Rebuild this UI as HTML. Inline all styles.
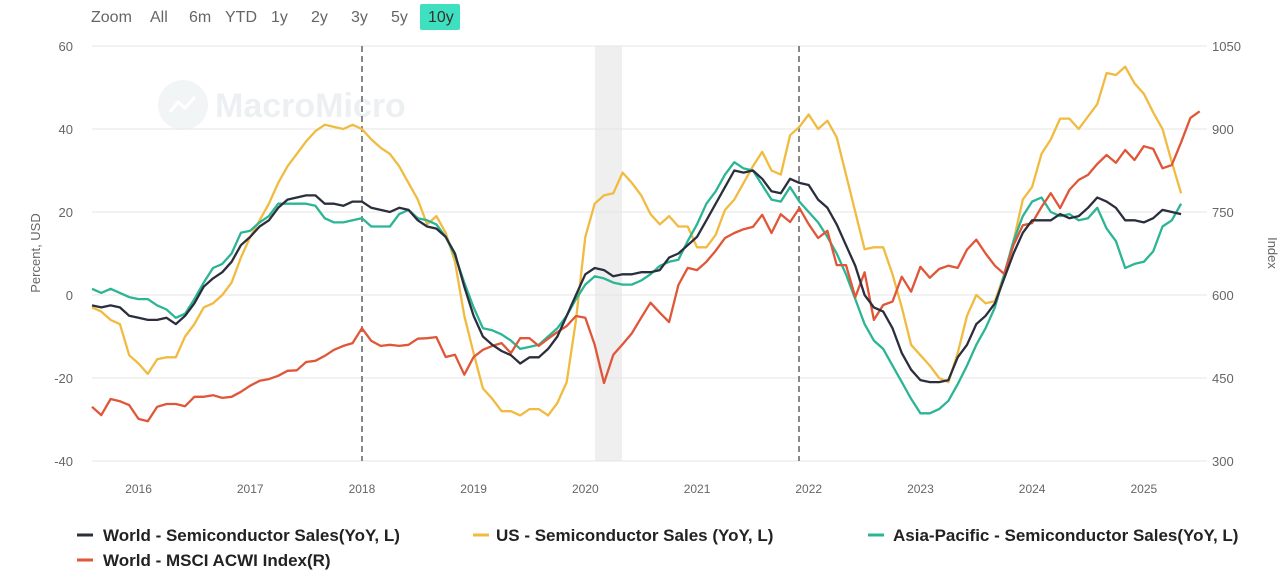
<!DOCTYPE html>
<html><head><meta charset="utf-8">
<style>
body{margin:0;background:#fff;font-family:"Liberation Sans",sans-serif;}
svg text{font-family:"Liberation Sans",sans-serif;}
</style></head>
<body>
<svg id="chart" width="1284" height="577" viewBox="0 0 1284 577" xmlns="http://www.w3.org/2000/svg">
<g id="zoom">
<text x="91" y="22" font-size="16" fill="#666">Zoom</text>
<rect x="420" y="4" width="40" height="26" rx="2" fill="#3fe0bf"/>
<text x="150" y="22" font-size="16" fill="#666">All</text>
<text x="189" y="22" font-size="16" fill="#666">6m</text>
<text x="225" y="22" font-size="16" fill="#666">YTD</text>
<text x="271" y="22" font-size="16" fill="#666">1y</text>
<text x="311" y="22" font-size="16" fill="#666">2y</text>
<text x="351" y="22" font-size="16" fill="#666">3y</text>
<text x="391" y="22" font-size="16" fill="#666">5y</text>
<text x="428" y="22" font-size="16" fill="#333">10y</text>
</g>
<g opacity="0.5">
<circle cx="183" cy="105" r="25" fill="#e6ecef"/>
<path d="M170 112 L178 102 L185 108 L195 97" stroke="#fff" stroke-width="3" fill="none"/>
<text x="215" y="117" font-size="34" font-weight="bold" fill="#dde3e6">MacroMicro</text>
</g>
<rect x="595" y="46" width="27" height="415" fill="#efefef"/>
<g id="grid"></g>
<line x1="362" y1="46" x2="362" y2="461" stroke="#888" stroke-width="2" stroke-dasharray="6,4"/>
<line x1="799" y1="46" x2="799" y2="461" stroke="#888" stroke-width="2" stroke-dasharray="6,4"/>
<g id="series"></g>
<text transform="translate(40,253) rotate(-90)" text-anchor="middle" font-size="13" fill="#666">Percent, USD</text>
<text transform="translate(1268,253) rotate(90)" text-anchor="middle" font-size="13" fill="#666">Index</text>
<g font-size="17" font-weight="bold" fill="#222">
<line x1="77" y1="535" x2="93" y2="535" stroke="#2b2e3d" stroke-width="3"/>
<text x="103" y="541">World - Semiconductor Sales(YoY, L)</text>
<line x1="473" y1="535" x2="489" y2="535" stroke="#f0bb40" stroke-width="3"/>
<text x="496" y="541">US - Semiconductor Sales (YoY, L)</text>
<line x1="868" y1="535" x2="884" y2="535" stroke="#2bb594" stroke-width="3"/>
<text x="893" y="541">Asia-Pacific - Semiconductor Sales(YoY, L)</text>
<line x1="77" y1="560" x2="93" y2="560" stroke="#e05638" stroke-width="3"/>
<text x="103" y="566">World - MSCI ACWI Index(R)</text>
</g>
</svg>
<script>
const yearLabels=["2016","2017","2018","2019","2020","2021","2022","2023","2024","2025"];
const leftTicks=[60,40,20,0,-20,-40];
const rightTicks=[1050,900,750,600,450,300];
const world=[-2.5,-3,-2.5,-3,-5,
-5.5,-6,-6,-5.5,-7,-5,-2,2,4,5.5,8,12,
14,16.5,18,21,23,23.5,24,24,22,22,21.5,22.5,
22.5,21,20.5,20,21,20.5,18,16.5,16,14,10,2,
-5,-10,-12,-13.5,-14.5,-16.5,-15,-15,-13,-10,-5,0,
5,6.5,6,4.5,5,5,5.5,5.5,6,9,10,12,
14,18,22,26,30,29.5,30,28,25,24.5,28,27,
26.5,23,21,17,12,7,0,-3,-4,-8,-14,-18,
-20.5,-21,-21,-20.5,-15,-12,-7,-5,-2,4,10,15,
18,18,18,19.5,18.5,19,21,23.5,22.5,21,18,18,
17.5,18.5,20.5,20,19.5];
const us=[-3,-4,-6,-7,-14.5,
-16.5,-19,-15.5,-15,-15,-10,-7,-3,-2,0,3,9,
14,18,22,27,31,34,37,39.5,41,40.5,40,41,
40,37.5,35.5,34,31,27,23,17,19,15,8,-5,
-14,-22.5,-25,-28,-28,-29,-27.5,-27.5,-29,-26,-21,-6,
14,22,24,24.5,29.5,27,24,19.5,17,19,16.5,16.5,
11.5,11.5,14.5,20.5,23,27,31,34.5,30,29,38.5,40.5,
43.5,40,42,38,29,20,11,11.5,11.5,5,-3,-12,
-14.5,-17,-20,-21,-14,-5,0,-2,-1.5,5,13,23,
26,34,37.5,42.5,42.5,40,43,46,53.5,53,55,51,
48.5,44,40,32,24.5];
const asia=[1.5,0.5,1.5,0.5,-0.5,
-1,-1,-2.5,-3.5,-5.5,-4.5,-1,3,6.5,7.5,10,15,
15.5,17.5,19,22,22,22,22,21.5,18.5,17.5,17.5,18,
18.5,16.5,16.5,16.5,19.5,20.5,18.5,18,17,14,9.5,3,
-3,-8,-8.5,-9.5,-11,-13,-12.5,-12,-10,-8,-5,-1,
2.5,4.5,4,3,2.5,2.5,3.5,5,7,8,8.5,13,
17,22,25,29,32,30.5,30,26.5,23,22.5,26,22.5,
20,17.5,14,10,5,-1,-7,-11,-13,-17,-21,-25,
-28.5,-28.5,-27.5,-25.5,-21.5,-17,-12,-8,-3,5,13,19,
22.5,23.5,20,19,19.5,18,18.5,21,16,13,6.5,7.5,
8,10.5,16.5,18,22];
const msci=[398,383,412,408,401,
376,372,398,403,403,399,416,416,419,414,416,425,
436,445,448,454,463,464,479,481,490,501,508,513,
540,517,508,510,508,510,521,522,524,488,492,456,
488,501,508,513,495,522,522,508,521,533,544,562,
559,510,441,492,511,531,559,586,568,551,618,649,
645,660,680,703,712,719,723,745,712,746,732,757,
728,703,716,654,654,596,641,555,582,588,633,606,
651,631,647,653,649,682,700,675,653,638,690,726,
730,759,784,757,790,808,817,837,853,839,862,844,
869,864,829,835,876,920,932];
const X0=92,MW=111.7/12;
const xm=i=>X0+i*MW;
const yl=v=>295-v*(415/100);
const yr=v=>461-(v-300)*(415/750);
const NS="http://www.w3.org/2000/svg";
const grid=document.getElementById('grid');
leftTicks.forEach((t,k)=>{
 const y=yl(t);
 const l=document.createElementNS(NS,'line');
 l.setAttribute('x1',92);l.setAttribute('x2',1207);l.setAttribute('y1',y);l.setAttribute('y2',y);
 l.setAttribute('stroke','#e6e6e6');
 
 
 grid.appendChild(l);
 const tx=document.createElementNS(NS,'text');
 tx.setAttribute('x',73);tx.setAttribute('y',y+5);tx.setAttribute('text-anchor','end');tx.setAttribute('font-size','13');tx.setAttribute('fill','#666');
 tx.textContent=t;
 
 
 grid.appendChild(tx);
});
rightTicks.forEach(t=>{
 const tx=document.createElementNS(NS,'text');
 tx.setAttribute('x',1212);tx.setAttribute('y',yr(t)+5);tx.setAttribute('font-size','13');tx.setAttribute('fill','#666');
 tx.textContent=t;
 
 
 grid.appendChild(tx);
});
yearLabels.forEach((lab,k)=>{
 const x=xm(5+12*k);
 const tx=document.createElementNS(NS,'text');
 tx.setAttribute('x',x);tx.setAttribute('y',493);tx.setAttribute('text-anchor','middle');tx.setAttribute('font-size','12');tx.setAttribute('fill','#666');
 tx.textContent=lab;
 
 
 grid.appendChild(tx);
});
const ser=document.getElementById('series');
function draw(arr,yf,color,name){
 const p=document.createElementNS(NS,'path');
 p.setAttribute('d',arr.map((v,i)=>(i?'L':'M')+xm(i).toFixed(1)+' '+yf(v).toFixed(1)).join(' '));
 p.setAttribute('fill','none');p.setAttribute('stroke',color);p.setAttribute('stroke-width','2.3');p.setAttribute('stroke-linejoin','round');
 
 
 ser.appendChild(p);
}
draw(us,yl,'#f0bb40','us-semiconductor-line');
draw(asia,yl,'#2bb594','asia-semiconductor-line');
draw(msci,yr,'#e05638','msci-acwi-line');
draw(world,yl,'#2b2e3d','world-semiconductor-line');
</script>
</body></html>
